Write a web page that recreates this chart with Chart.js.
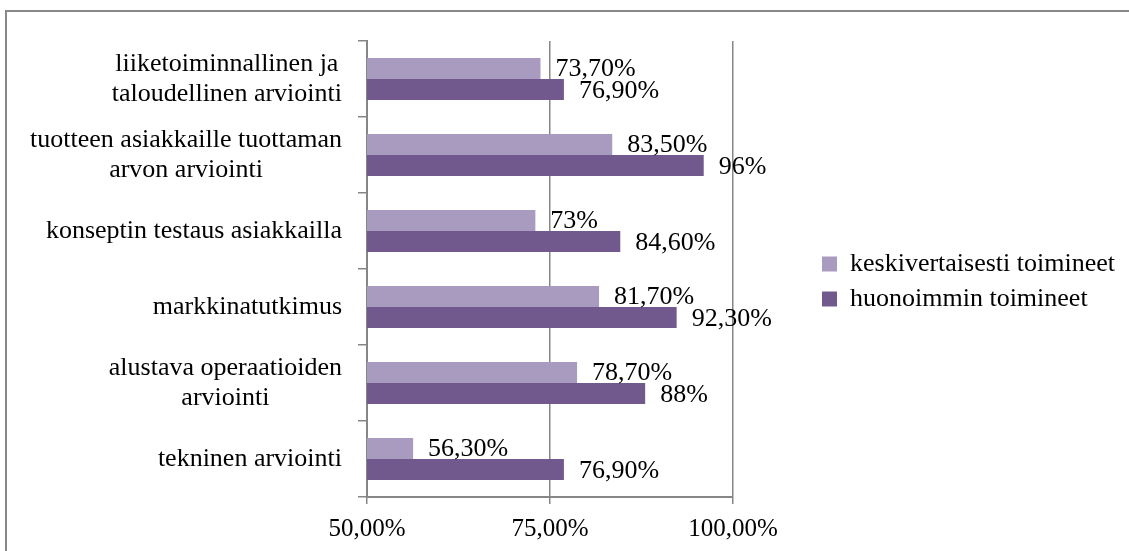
<!DOCTYPE html>
<html>
<head>
<meta charset="utf-8">
<script src="https://cdn.jsdelivr.net/npm/chart.js@4/dist/chart.umd.min.js"></script>
<style>
  html, body { margin: 0; padding: 0; background: #fff; overflow: hidden; }
  #chart { display: block; }
</style>
</head>
<body>
<canvas id="chart" width="1129" height="551"></canvas>
<script>
const categories = [
  ['liiketoiminnallinen ja', 'taloudellinen arviointi'],
  ['tuotteen asiakkaille tuottaman', 'arvon arviointi'],
  'konseptin testaus asiakkailla',
  'markkinatutkimus',
  ['alustava operaatioiden', 'arviointi'],
  'tekninen arviointi'
];
const seriesNames = ['keskivertaisesti toimineet', 'huonoimmin toimineet'];
const keskiValues = [73.7, 83.5, 73, 81.7, 78.7, 56.3];
const huonoValues = [76.9, 96, 84.6, 92.3, 88, 76.9];
const xTicks = [50, 75, 100];

const FONT = 'Liberation Serif, "Times New Roman", serif';
const lightColor = '#A99BBF';
const darkColor = '#71598E';

function pct(v) {
  return Number.isInteger(v) ? v + '%' : v.toFixed(2).replace('.', ',') + '%';
}

// outer chart frame (only top and left edges are inside the picture)
const frame = {
  id: 'frame',
  beforeDraw(chart) {
    const ctx = chart.ctx;
    ctx.save();
    ctx.strokeStyle = '#888';
    ctx.lineWidth = 2;
    ctx.beginPath();
    ctx.moveTo(6, chart.height);
    ctx.lineTo(6, 11);
    ctx.lineTo(chart.width, 11);
    ctx.stroke();
    ctx.restore();
  }
};

// category labels: block right aligned, lines centered inside the block
const categoryLabels = {
  id: 'categoryLabels',
  afterDraw(chart) {
    const ctx = chart.ctx;
    const y = chart.scales.y;
    const right = chart.chartArea.left - 25;
    ctx.save();
    ctx.font = '26px ' + FONT;
    ctx.fillStyle = '#000';
    ctx.textAlign = 'center';
    ctx.textBaseline = 'middle';
    categories.forEach((label, i) => {
      const lines = Array.isArray(label) ? label : [label];
      const w = Math.max(...lines.map(l => ctx.measureText(l).width));
      const cy = y.getPixelForTick(i);
      lines.forEach((line, j) => {
        ctx.fillText(line, right - w / 2, cy + (j - (lines.length - 1) / 2) * 30);
      });
    });
    ctx.restore();
  }
};

const valueLabels = {
  id: 'valueLabels',
  afterDatasetsDraw(chart) {
    const ctx = chart.ctx;
    ctx.save();
    ctx.font = '26px ' + FONT;
    ctx.fillStyle = '#000';
    ctx.textAlign = 'left';
    ctx.textBaseline = 'middle';
    chart.data.datasets.forEach((ds, di) => {
      chart.getDatasetMeta(di).data.forEach((bar, i) => {
        ctx.fillText(pct(ds.data[i]), bar.x + 15, bar.y + 1 + di);
      });
    });
    ctx.restore();
  }
};

// let the legend keep its full width on the right
const legendWidthFix = {
  id: 'legendWidthFix',
  beforeUpdate(chart) {
    const legend = chart.legend;
    if (!legend || legend._wide) return;
    const fit = legend.fit;
    legend.fit = function () { this.maxWidth = 400; fit.call(this); };
    legend._wide = true;
  }
};

new Chart(document.getElementById('chart'), {
  type: 'bar',
  data: {
    labels: categories,
    datasets: [
      { label: seriesNames[0], data: keskiValues, backgroundColor: lightColor,
        categoryPercentage: 0.555, barPercentage: 1 },
      { label: seriesNames[1], data: huonoValues, backgroundColor: darkColor,
        categoryPercentage: 0.555, barPercentage: 1 }
    ]
  },
  options: {
    indexAxis: 'y',
    responsive: false,
    animation: false,
    layout: { padding: { left: 358, top: 41, bottom: -3, right: 4 } },
    scales: {
      x: {
        min: xTicks[0],
        max: xTicks[xTicks.length - 1],
        afterBuildTicks(scale) { scale.ticks = xTicks.map(v => ({ value: v })); },
        ticks: {
          color: '#000',
          padding: 10,
          font: { family: FONT, size: 25 },
          callback: v => v.toFixed(2).replace('.', ',') + '%'
        },
        grid: { color: '#868686', lineWidth: 1.5, tickLength: 7 },
        border: { color: '#868686', width: 2 }
      },
      y: {
        ticks: { display: false },
        grid: { offset: true, drawOnChartArea: false, color: '#868686', lineWidth: 1.5, tickLength: 9 },
        border: { color: '#868686', width: 2 }
      },
      gap: {
        type: 'category',
        axis: 'y',
        position: 'right',
        ticks: { display: false },
        grid: { display: false },
        border: { display: false },
        afterFit(scale) { scale.width = 80; }
      }
    },
    plugins: {
      tooltip: { enabled: false },
      legend: {
        position: 'right',
        fullSize: false,
        title: { display: true, text: ' ', padding: 0, font: { size: 20, lineHeight: 1.25 } },
        labels: {
          color: '#000',
          boxWidth: 15,
          boxHeight: 15,
          padding: 9,
          font: { family: FONT, size: 26 }
        }
      }
    }
  },
  plugins: [frame, legendWidthFix, categoryLabels, valueLabels]
});
</script>
</body>
</html>
